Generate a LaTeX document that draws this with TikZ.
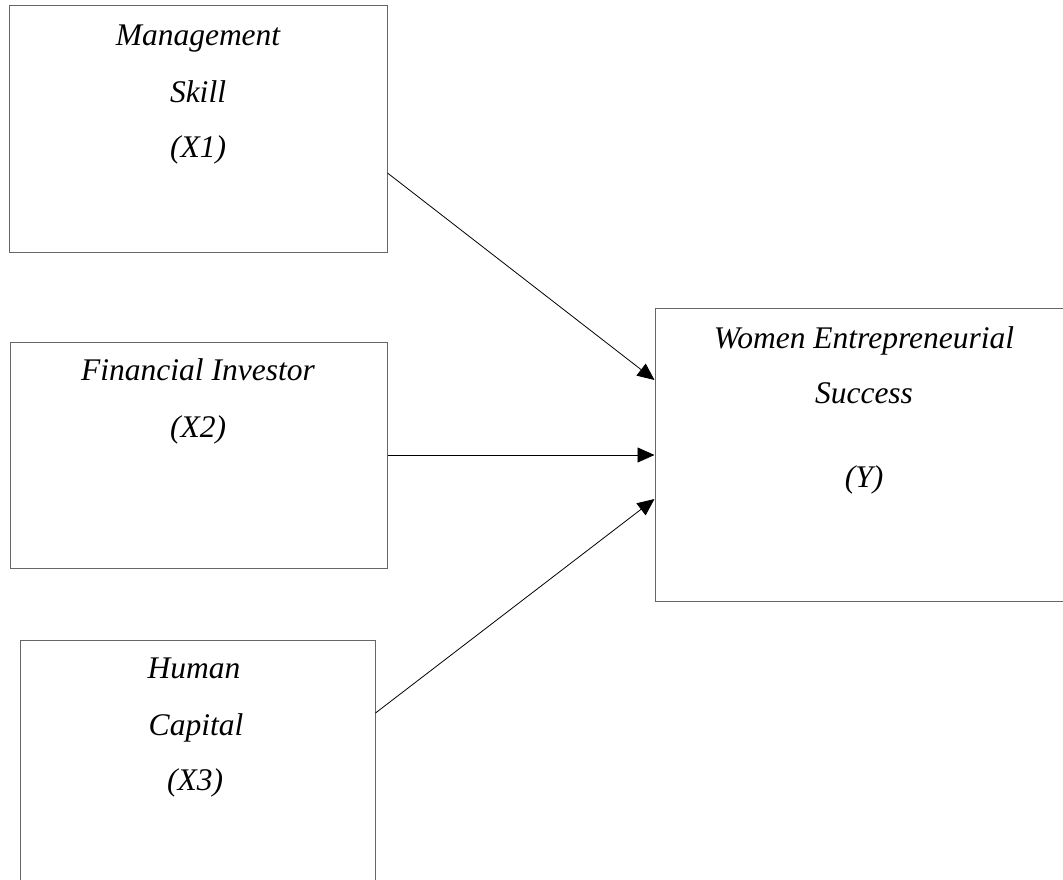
\documentclass[tikz,border=0pt]{standalone}
\usepackage{fontspec}
\setmainfont{Liberation Serif}
\usetikzlibrary{arrows.meta}
\begin{document}
\begin{tikzpicture}[x=1pt,y=-1pt,
  box/.style={draw=black!60, line width=1pt, rectangle, inner sep=0pt},
  txt/.style={anchor=base, inner sep=0pt, font=\fontsize{31.5}{37}\selectfont\itshape},
  link/.style={draw=black, line width=0.8pt, -{Triangle[length=17pt,width=15pt]}}]
\useasboundingbox (0,0) rectangle (1063,879);
\clip (0,0) rectangle (1063,879);
% boxes
\node[box, minimum width=378pt, minimum height=247pt] (b1) at (198,128.5) {};
\node[box, minimum width=377pt, minimum height=226pt] (b2) at (198.5,455) {};
\node[box, minimum width=355pt, minimum height=260pt] (b3) at (197.5,770) {};
\node[box, minimum width=418pt, minimum height=293pt] (bY) at (864,454.5) {};
% texts
\node[txt] (t11) at (198,45) {Management};
\node[txt] (t12) at (198,102) {Skill};
\node[txt] (t13) at (198,157) {(X1)};
\node[txt] (t21) at (198,380) {Financial Investor};
\node[txt] (t22) at (198,437) {(X2)};
\node[txt] (t31) at (194,678) {Human};
\node[txt] (t32) at (196,735) {Capital};
\node[txt] (t33) at (195,790) {(X3)};
\node[txt] (tY1) at (864,348) {Women Entrepreneurial};
\node[txt] (tY2) at (864,403) {Success};
\node[txt] (tY3) at (864,487) {(Y)};
% connectors
\draw[link] ([yshift=-44.5pt]b1.east) -- ([yshift=74.5pt]bY.west);
\draw[link] (b2.east) -- (b2.east -| bY.west);
\draw[link] ([yshift=57pt]b3.east) -- ([yshift=-44.5pt]bY.west);
\end{tikzpicture}
\end{document}
